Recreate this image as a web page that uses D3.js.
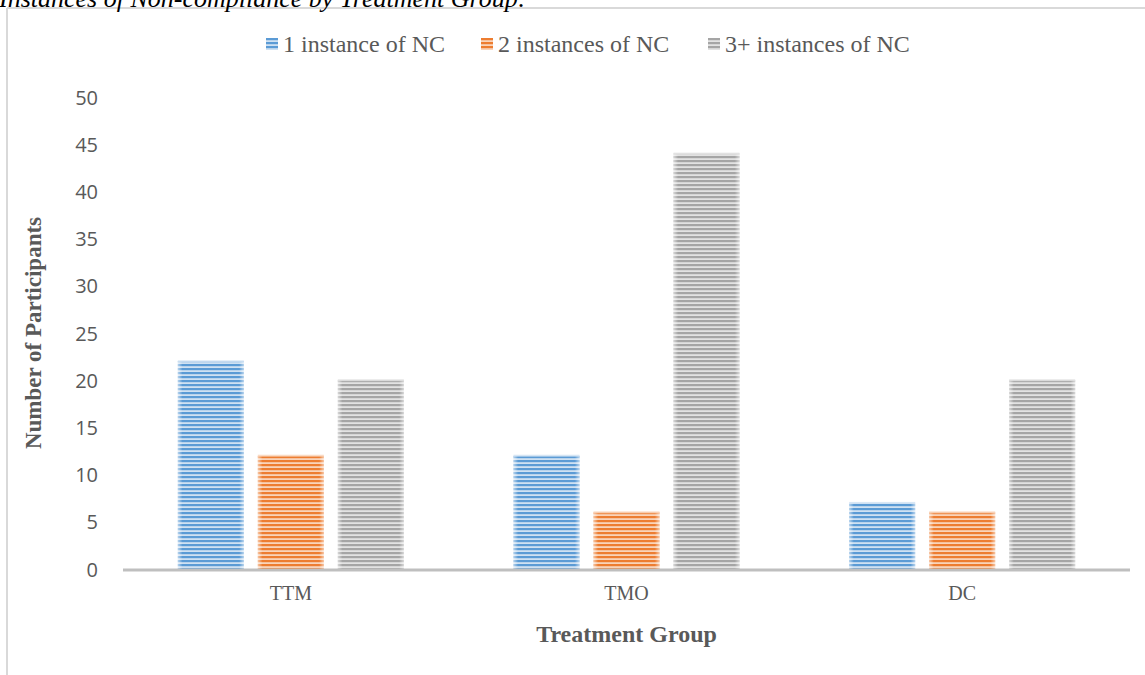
<!DOCTYPE html>
<html>
<head>
<meta charset="utf-8">
<script src="https://cdn.jsdelivr.net/npm/d3@7"></script>
<style>
  html, body { margin: 0; padding: 0; background: #fff; }
  svg { display: block; }
</style>
</head>
<body>
<svg id="chart" width="1145" height="675"></svg>
<script>
// Data: participants per treatment group by number of non-compliance instances
const groups = ["TTM", "TMO", "DC"];
const seriesNames = ["1 instance of NC", "2 instances of NC", "3+ instances of NC"];
const oneInstance = [22, 12, 7];
const twoInstances = [12, 6, 6];
const threePlusInstances = [20, 44, 20];
const yTicks = [0, 5, 10, 15, 20, 25, 30, 35, 40, 45, 50];

const seriesValues = [oneInstance, twoInstances, threePlusInstances];
const dark = ["#5b9bd5", "#ed7d31", "#a5a5a5"];
const light = ["#cfe1f2", "#f9d4ba", "#e2e2e2"];

const serif = "Liberation Serif, Times New Roman, serif";
const svg = d3.select("#chart");
const W = 1145, H = 675;
const plot = { left: 123, right: 1130, top: 97, bottom: 569 };

// Striped fills
const defs = svg.append("defs");
seriesNames.forEach((name, i) => {
  const p = defs.append("pattern")
    .attr("id", "stripe" + i)
    .attr("patternUnits", "userSpaceOnUse")
    .attr("width", 8).attr("height", 4);
  p.append("rect").attr("width", 8).attr("height", 4).attr("fill", light[i]);
  p.append("rect").attr("y", 0).attr("width", 8).attr("height", 2.2).attr("fill", dark[i]);
});
// Soft side fade on bars
const fade = defs.append("linearGradient").attr("id", "edgeFade")
  .attr("x1", "0").attr("x2", "1").attr("y1", "0").attr("y2", "0");
[[0, 0.55], [0.07, 0], [0.93, 0], [1, 0.55]].forEach(([o, a]) => {
  fade.append("stop").attr("offset", o).attr("stop-color", "#fff").attr("stop-opacity", a);
});

// Chart frame
svg.append("line").attr("x1", 7).attr("x2", W).attr("y1", 8).attr("y2", 8)
  .attr("stroke", "#d9d9d9").attr("stroke-width", 2);
svg.append("line").attr("x1", 7).attr("x2", 7).attr("y1", 8).attr("y2", H)
  .attr("stroke", "#d9d9d9").attr("stroke-width", 2);

// Caption above the frame
svg.append("text")
  .attr("x", -1).attr("y", 7)
  .attr("font-family", serif)
  .attr("font-style", "italic")
  .attr("font-size", 26)
  .attr("fill", "#000")
  .text("Instances of Non-compliance by Treatment Group:");

// Scales
const x0 = d3.scaleBand().domain(groups).range([plot.left, plot.right]).paddingInner(0).paddingOuter(0);
const barW = 66, gap = 14;
const groupW = seriesNames.length * barW + (seriesNames.length - 1) * gap;
const y = d3.scaleLinear().domain([0, 50]).range([plot.bottom, plot.top]);

// Y axis labels
const yAxis = d3.axisLeft(y).tickValues(yTicks).tickSize(0).tickPadding(0);
const yg = svg.append("g").attr("transform", `translate(${plot.left - 25},0)`).call(yAxis);
yg.select(".domain").remove();
yg.selectAll("text")
  .attr("font-family", "Open Sans, Liberation Sans, sans-serif")
  .attr("font-size", 20)
  .attr("fill", "#595959")
  .attr("dy", "0.35em");

// Bars
groups.forEach((g, gi) => {
  const start = x0(g) + (x0.bandwidth() - groupW) / 2;
  seriesValues.forEach((vals, si) => {
    const bx = start + si * (barW + gap);
    const by = y(vals[gi]);
    const bh = y(0) - by;
    svg.append("rect").attr("x", bx).attr("y", by).attr("width", barW).attr("height", bh)
      .attr("fill", `url(#stripe${si})`);
    svg.append("rect").attr("x", bx).attr("y", by).attr("width", barW).attr("height", bh)
      .attr("fill", "url(#edgeFade)");
    svg.append("rect").attr("x", bx).attr("y", by - 1).attr("width", barW).attr("height", 2)
      .attr("fill", light[si]).attr("opacity", 0.8);
  });
});

// X axis line and category labels
const xAxis = d3.axisBottom(x0).tickSize(0).tickPadding(0);
const xg = svg.append("g").attr("transform", `translate(0,${plot.bottom})`).call(xAxis);
xg.select(".domain").remove();
svg.append("line")
  .attr("x1", plot.left).attr("x2", plot.right)
  .attr("y1", plot.bottom + 1).attr("y2", plot.bottom + 1)
  .attr("stroke", "#bfbfbf").attr("stroke-width", 3);
xg.selectAll("text")
  .attr("y", 31)
  .attr("dy", 0)
  .attr("font-family", serif)
  .attr("font-size", 20)
  .attr("fill", "#595959");

// Axis titles
svg.append("text")
  .attr("x", (plot.left + plot.right) / 2).attr("y", 642)
  .attr("text-anchor", "middle")
  .attr("font-family", serif)
  .attr("font-weight", "bold").attr("font-size", 24)
  .attr("fill", "#595959")
  .text("Treatment Group");
svg.append("text")
  .attr("transform", `translate(41,${(plot.top + plot.bottom) / 2}) rotate(-90)`)
  .attr("text-anchor", "middle")
  .attr("font-family", serif)
  .attr("font-weight", "bold").attr("font-size", 23)
  .attr("fill", "#595959")
  .text("Number of Participants");

// Legend
const legendX = [266, 481, 708];
seriesNames.forEach((name, i) => {
  const lg = svg.append("g").attr("transform", `translate(${legendX[i]},38)`);
  lg.append("rect").attr("x", 0).attr("y", 0).attr("width", 12).attr("height", 12)
    .attr("fill", `url(#stripe${i})`);
  lg.append("text").attr("x", 17).attr("y", 14)
    .attr("font-family", serif)
    .attr("font-size", 24)
    .attr("fill", "#595959")
    .text(name);
});
</script>
</body>
</html>
